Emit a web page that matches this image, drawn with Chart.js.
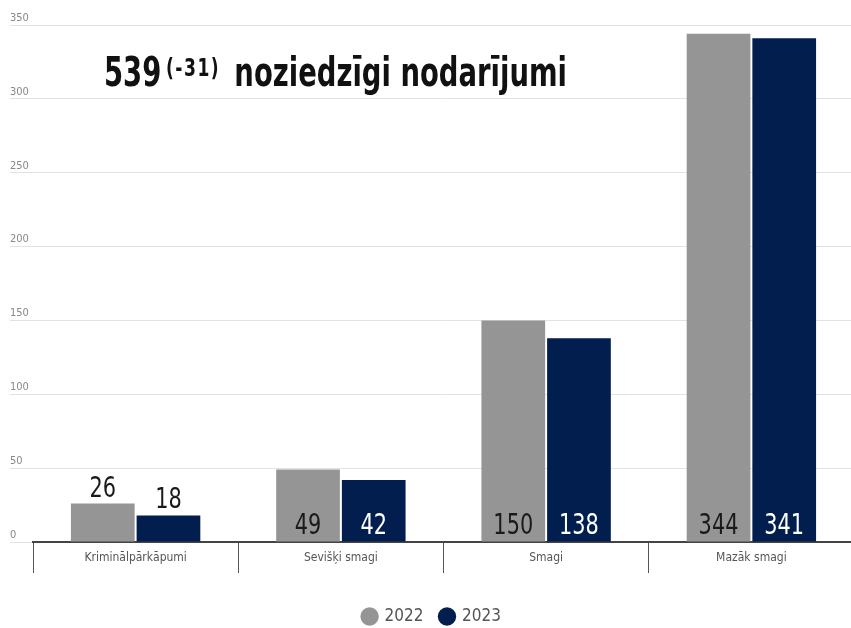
<!DOCTYPE html>
<html>
<head>
<meta charset="utf-8">
<script src="https://cdn.jsdelivr.net/npm/chart.js@4"></script>
<style>
  html, body { margin: 0; padding: 0; background: #fff; overflow: hidden; }
  #wrap { position: relative; width: 856px; height: 635px; }
  #title { position: absolute; left: 104px; top: 52px; font-family: 'DejaVu Sans Condensed', sans-serif; font-weight: bold; font-size: 40px; line-height: 40px; color: #111; white-space: nowrap; transform: scaleX(0.763); transform-origin: left top; }
  #title sup { font-size: 25px; position: relative; top: -10px; vertical-align: baseline; line-height: 1; margin-left: 6px; margin-right: 6px; letter-spacing: 2px; }
</style>
</head>
<body>
<div id="wrap">
  <canvas id="c" width="856" height="635"></canvas>
  <div id="title">539<sup>(-31)</sup> noziedzīgi nodarījumi</div>
</div>
<script>
const categories = ['Kriminālpārkāpumi', 'Sevišķi smagi', 'Smagi', 'Mazāk smagi'];
const seriesNames = ['2022', '2023'];
const values2022 = [26, 49, 150, 344];
const values2023 = [18, 42, 138, 341];
const yTicks = [0, 50, 100, 150, 200, 250, 300, 350];

const FONT = "'DejaVu Sans Condensed', sans-serif";
const GRAY = '#959595';
const NAVY = '#011e4e';

const valueLabels = {
  id: 'valueLabels',
  afterDatasetsDraw(chart) {
    const ctx = chart.ctx;
    chart.data.datasets.forEach((ds, di) => {
      const meta = chart.getDatasetMeta(di);
      meta.data.forEach((bar, i) => {
        const v = ds.data[i];
        const h = bar.base - bar.y;
        let y, color;
        if (h > 50) {
          color = di === 1 ? '#ffffff' : '#1a1a1a';
          y = bar.base - 8;
        } else {
          color = '#1a1a1a';
          y = bar.y - 7;
        }
        ctx.save();
        ctx.translate(bar.x, y);
        ctx.scale(0.8, 1);
        ctx.font = '29px ' + FONT;
        ctx.textAlign = 'center';
        ctx.textBaseline = 'alphabetic';
        ctx.fillStyle = color;
        ctx.fillText(String(v), 0, 0);
        ctx.restore();
      });
    });
  }
};

new Chart(document.getElementById('c'), {
  type: 'bar',
  data: {
    labels: categories,
    datasets: [
      { label: seriesNames[0], data: values2022, backgroundColor: GRAY, categoryPercentage: 0.64, barPercentage: 0.97 },
      { label: seriesNames[1], data: values2023, backgroundColor: NAVY, categoryPercentage: 0.64, barPercentage: 0.97 }
    ]
  },
  plugins: [valueLabels],
  options: {
    responsive: false,
    animation: false,
    layout: { padding: { left: 10, right: 2, top: 25, bottom: 0 } },
    plugins: {
      tooltip: { enabled: false },
      legend: {
        position: 'bottom',
        labels: {
          usePointStyle: true,
          pointStyle: 'circle',
          boxWidth: 13,
          boxHeight: 13,
          padding: 17,
          color: '#555',
          font: { family: FONT, size: 17 }
        }
      }
    },
    scales: {
      x: {
        grid: { display: true, drawOnChartArea: false, drawTicks: true, tickLength: 31, color: '#555', lineWidth: 1 },
        border: { display: true, color: '#444', width: 2 },
        ticks: { color: '#555', font: { family: FONT, size: 12 }, padding: -22 },
        afterFit(scale) { scale.height = 49; }
      },
      y: {
        min: 0, max: 350,
        afterBuildTicks(scale) { scale.ticks = yTicks.map(v => ({ value: v })); },
        grid: { color: '#e2e2e2', lineWidth: 1, drawTicks: true, tickLength: 23 },
        border: { display: false },
        ticks: { color: '#888', font: { family: FONT, size: 11 }, crossAlign: 'far', labelOffset: -7, padding: 0 },
        afterFit(scale) { scale.width = 23; }
      }
    }
  }
});
</script>
</body>
</html>
